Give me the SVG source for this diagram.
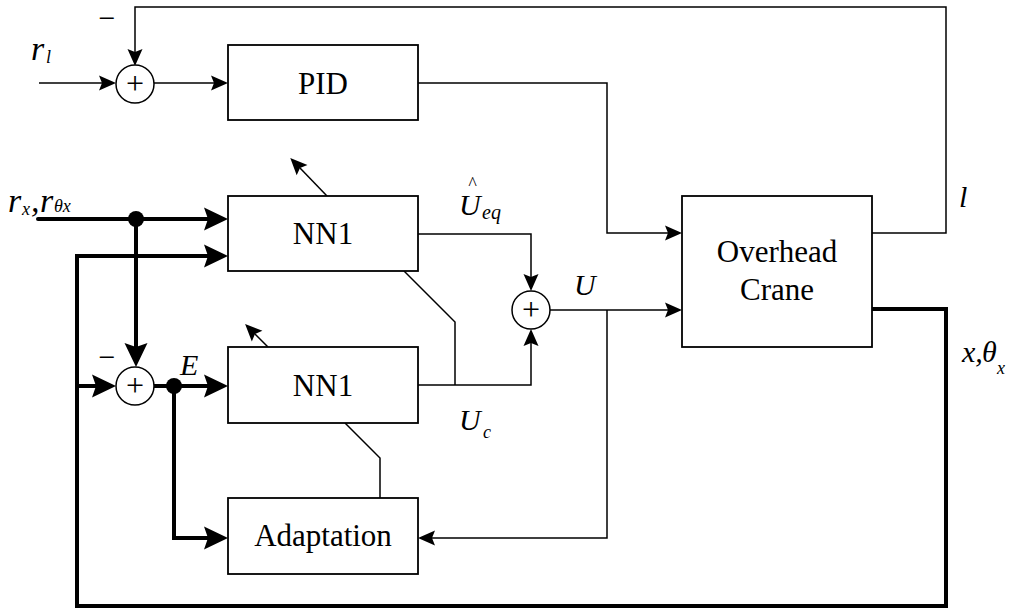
<svg xmlns="http://www.w3.org/2000/svg" width="1024" height="611" viewBox="0 0 1024 611">
<style>
.box{fill:#fff;stroke:#000;stroke-width:1.8}
.sum{fill:#fff;stroke:#000;stroke-width:1.5}
.ln{fill:none;stroke:#000;stroke-width:1.5}
.tk{fill:none;stroke:#000;stroke-width:4}
text{font-family:'Liberation Serif','Times New Roman','DejaVu Serif',serif;fill:#000}
.lbl{font-size:31px;text-anchor:middle;font-style:normal}
.plus{font-size:32px;text-anchor:middle}
.it{font-style:italic}
.m{font-size:30px;text-anchor:middle}
</style>
<defs>
<marker id="ah" markerUnits="userSpaceOnUse" markerWidth="17" markerHeight="15" refX="3" refY="7.5" orient="auto" overflow="visible"><path d="M0,0 L17,7.5 L0,15 L3,7.5 z" fill="#000"/></marker>
<marker id="ahb" markerUnits="userSpaceOnUse" markerWidth="24" markerHeight="23" refX="5" refY="11.5" orient="auto" overflow="visible"><path d="M0,0 L24,11.5 L0,23 L4,11.5 z" fill="#000"/></marker>
</defs>
<rect width="1024" height="611" fill="#fff"/>
<g id="connectors">
<path class="ln" d="M872,233 H946 V7 H135 V52" marker-end="url(#ah)"/>
<path class="ln" d="M39,83 H102" marker-end="url(#ah)"/>
<path class="ln" d="M154,83 H214" marker-end="url(#ah)"/>
<path class="ln" d="M418,83 H607 V233 H668" marker-end="url(#ah)"/>
<path class="ln" d="M327,196 L300,168" marker-end="url(#ah)"/>
<path class="ln" d="M418,234 H531 V277" marker-end="url(#ah)"/>
<path class="ln" d="M418,385 H531 V343" marker-end="url(#ah)"/>
<path class="ln" d="M404,271 L455,322 V385"/>
<path class="ln" d="M550,310 H668" marker-end="url(#ah)"/>
<path class="ln" d="M607,310 V538 H432" marker-end="url(#ah)"/>
<path class="ln" d="M268,347 L255,334" marker-end="url(#ah)"/>
<path class="ln" d="M345,423 L380,458 V498"/>
<path class="tk" d="M38,219 H209" stroke-linecap="round" marker-end="url(#ahb)"/>
<path class="tk" d="M136,219 V348" marker-end="url(#ahb)"/>
<path class="tk" d="M872,309 H946 V606 H77 V256 H209" marker-end="url(#ahb)"/>
<circle cx="872" cy="309" r="2" fill="#000"/>
<path class="tk" d="M77,386 H97" marker-end="url(#ahb)"/>
<path class="tk" d="M154,386 H209" marker-end="url(#ahb)"/>
<path class="tk" d="M174,386 V538 H209" marker-end="url(#ahb)"/>
<circle cx="136" cy="219" r="8" fill="#000"/>
<circle cx="174" cy="386" r="8" fill="#000"/>
</g>
<g id="sum1"><circle class="sum" cx="135" cy="84" r="19"/><text class="plus" x="135" y="94">+</text></g>
<g id="sum2"><circle class="sum" cx="135" cy="386" r="19"/><text class="plus" x="135" y="396">+</text></g>
<g id="sum3"><circle class="sum" cx="531" cy="310" r="19"/><text class="plus" x="531" y="320">+</text></g>
<g id="pid"><rect class="box" x="228" y="45" width="190" height="75"/><text class="lbl" x="323" y="94">PID</text></g>
<g id="nn1a"><rect class="box" x="228" y="196" width="190" height="75"/><text class="lbl" x="323" y="244">NN1</text></g>
<g id="nn1b"><rect class="box" x="228" y="347" width="190" height="76"/><text class="lbl" x="323" y="396">NN1</text></g>
<g id="adaptation"><rect class="box" x="228" y="498" width="190" height="76"/><text class="lbl" x="323" y="546">Adaptation</text></g>
<g id="crane"><rect class="box" x="682" y="196" width="190" height="151"/><text class="lbl" x="777" y="262">Overhead</text><text class="lbl" x="777" y="300">Crane</text></g>
<g id="labels">
<text class="m" x="107" y="28">−</text>
<text class="m" x="107" y="367">−</text>
<text class="it" font-size="34" x="31" y="60">r</text><text class="it" font-size="18" x="46" y="63">l</text>
<text class="it" font-size="34" x="8" y="212">r</text><text class="it" font-size="18" x="22" y="215">x</text>
<text class="it" font-size="34" x="31" y="212">,</text>
<text class="it" font-size="34" x="40" y="212">r</text><text class="it" font-size="18" x="54" y="212">θx</text>
<text class="it" font-size="18" x="468" y="190">^</text>
<text class="it" font-size="30" x="459" y="215">U</text><text class="it" font-size="20" x="482" y="219">eq</text>
<text class="it" font-size="30" x="574" y="295">U</text>
<text class="it" font-size="30" x="459" y="430">U</text><text class="it" font-size="18" x="483" y="438">c</text>
<text class="it" font-size="30" x="180" y="375">E</text>
<text class="it" font-size="30" x="959" y="207">l</text>
<text class="it" font-size="30" x="962" y="362">x,</text><text class="it" font-size="30" x="982" y="362">θ</text><text class="it" font-size="18" x="997" y="374">x</text>
</g>
</svg>
